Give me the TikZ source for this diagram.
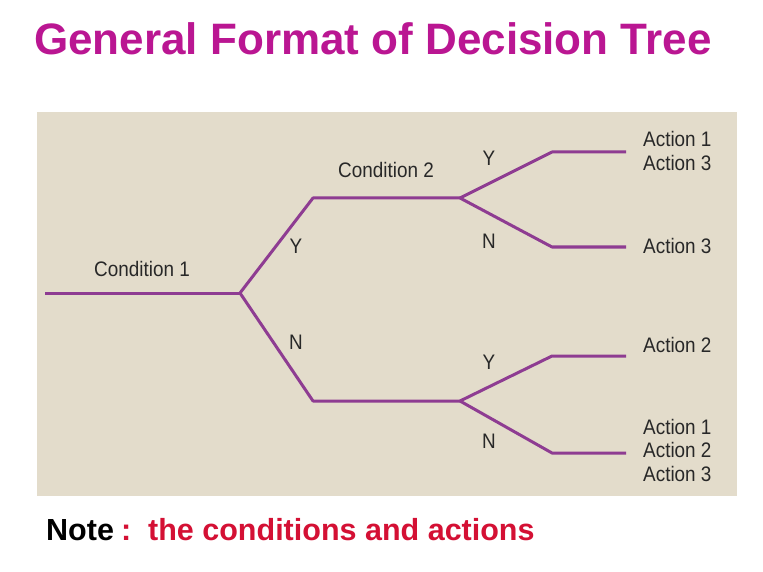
\documentclass[tikz,border=0pt]{standalone}
\usepackage{fontspec}
\setmainfont{Liberation Sans}
\newfontfamily\labelfont[FakeStretch=0.9]{Liberation Sans}
\definecolor{titlemag}{RGB}{186,22,146}
\definecolor{notered}{RGB}{212,16,52}
\definecolor{panelbg}{RGB}{227,220,203}
\definecolor{branch}{RGB}{142,60,146}
\definecolor{labeltext}{RGB}{40,40,40}
\begin{document}
\begin{tikzpicture}[x=1pt,y=-1pt,
  branchline/.style={draw=branch,line width=3pt,line join=round,line cap=butt},
  lbl/.style={font=\labelfont\fontsize{21}{23.5}\selectfont,text=labeltext,inner sep=0pt},
  act/.style={lbl,anchor=west,align=left},
  notefont/.style={anchor=base west,inner sep=0pt,font=\fontsize{30.5}{34}\selectfont\bfseries}]
\useasboundingbox (0,0) rectangle (763,572);
\fill[white] (0,0) rectangle (763,572);

% title
\node[anchor=base west,inner sep=0pt,text=titlemag,font=\fontsize{44}{50}\selectfont\bfseries] (title) at (34,55) {General Format of Decision Tree};

% panel
\fill[panelbg] (37,112) rectangle (737,496);

% tree junctions
\coordinate (start) at (45,293);
\coordinate (c1) at (240,293);
\coordinate (up) at (313,198);
\coordinate (lo) at (313,401);
\coordinate (c2a) at (460,198);
\coordinate (c2b) at (460,401);
\coordinate (a1) at (552,152);
\coordinate (a2) at (552,247);
\coordinate (a3) at (552,356);
\coordinate (a4) at (552,453);
\coordinate (e1) at (626,152);
\coordinate (e2) at (626,247);
\coordinate (e3) at (626,356);
\coordinate (e4) at (626,453);

\draw[branchline] (start) -- (c1);
\draw[branchline] (c1) -- (up) -- (c2a);
\draw[branchline] (c1) -- (lo) -- (c2b);
\draw[branchline] (c2a) -- (a1) -- (e1);
\draw[branchline] (c2a) -- (a2) -- (e2);
\draw[branchline] (c2b) -- (a3) -- (e3);
\draw[branchline] (c2b) -- (a4) -- (e4);

% labels
\node[lbl] (cond1) at (142,269) {Condition 1};
\node[lbl] (cond2) at (386,170) {Condition 2};
\node[lbl] (y1) at (296,246) {Y};
\node[lbl] (n1) at (296,342) {N};
\node[lbl] (y2) at (489,158) {Y};
\node[lbl] (n2) at (489,241) {N};
\node[lbl] (y3) at (489,362) {Y};
\node[lbl] (n3) at (489,441) {N};

\node[act] (act1) at (643,151) {Action 1\\Action 3};
\node[act] (act2) at (643,246) {Action 3};
\node[act] (act3) at (643,345) {Action 2};
\node[act] (act4) at (643,450) {Action 1\\Action 2\\Action 3};

% note
\node[notefont] (note) at (46,540) {Note};
\node[notefont,text=notered] (colon) at (121,540) {:};
\node[notefont,text=notered] (notetext) at (148,540) {the conditions and actions};
\end{tikzpicture}
\end{document}
